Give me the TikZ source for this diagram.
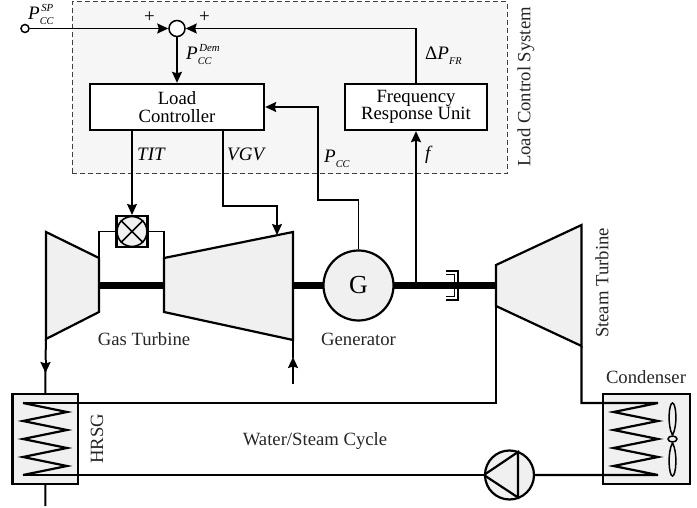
\documentclass[tikz,border=0pt]{standalone}
\usepackage{fontspec}
\setmainfont{Liberation Serif}
\usetikzlibrary{arrows.meta,calc,shapes.geometric}
\newcommand{\lbl}[3]{\textit{#1}\rlap{\hspace{1.5pt}\raisebox{8.5pt}{\fontsize{10.8}{10}\selectfont\textit{#2}}}{\raisebox{-4.5pt}{\fontsize{10.3}{10}\selectfont\textit{#3}}}}
\tikzset{
 x=1pt,y=-1pt,
 txt/.style={font=\fontsize{18.7}{18}\selectfont,inner sep=0pt,align=center,text=black!85},
 mlabel/.style={font=\fontsize{19}{18}\selectfont,inner sep=0pt,anchor=base west},
 wire/.style={line width=1.4pt},
 pipe/.style={line width=2pt},
 arr/.style={-{Stealth[length=11pt,width=10pt,inset=1.5pt]}},
 block/.style={draw,line width=2.4pt,fill=white,minimum width=#1,minimum height=46pt,inner sep=0pt,align=center,font=\fontsize{18.7}{18}\selectfont},
 machine/.style={draw,line width=2.2pt,fill=black!6,line join=miter},
 coil/.style={line width=2.2pt,line join=miter},
 dot/.style={circle,draw,inner sep=0pt,fill=white},
}
\begin{document}
\begin{tikzpicture}
\useasboundingbox (0,0) rectangle (697,508);
% load control system frame
\node[draw=black!75,line width=1pt,fill=black!3.5,minimum width=435pt,minimum height=172pt,inner sep=0pt,dash pattern=on 5pt off 3pt] (lcs) at (289.5,88) {};
\node[txt,rotate=90] (lcslabel) at (526,87) {Load Control System};
% control blocks
\node[block=174pt] (lc) at (177,107) {Load\\[-0.5pt]Controller};
\node[block=142pt] (fr) at (416,107) {Frequency\\[-0.5pt]Response Unit};
\node[dot,line width=1.5pt,minimum size=16pt] (sum) at (177,28.5) {};
\node[dot,line width=1.5pt,minimum size=8pt] (in) at (25,28.5) {};
% machines
\coordinate (c1) at (46,232); \coordinate (c2) at (99,258); \coordinate (c3) at (99,312); \coordinate (c4) at (46,339);
\coordinate (t1) at (164,258); \coordinate (t2) at (293,232); \coordinate (t3) at (293,340); \coordinate (t4) at (164,312);
\coordinate (s1) at (496,265); \coordinate (s2) at (581.5,225); \coordinate (s3) at (581.5,346); \coordinate (s4) at (496,306);
% shafts
\draw[line width=7.5pt] (99,285.5) -- (164,285.5);
\draw[line width=7.5pt] (293,285.5) -- (330,285.5);
\draw[line width=7.5pt] (390,285.5) -- (496,285.5);
\draw[machine] (c1) -- (c2) -- (c3) -- (c4) -- cycle;
\draw[machine] (t1) -- (t2) -- (t3) -- (t4) -- cycle;
\draw[machine] (s1) -- (s2) -- (s3) -- (s4) -- cycle;
\node[draw,line width=2.2pt,fill=black!6,circle,minimum size=70pt,inner sep=0pt,font=\fontsize{26}{26}\selectfont] (gen) at (358.5,285.5) {G};
% fuel lines and combustor
\node[draw,line width=2.2pt,fill=black!6,rectangle,minimum size=31pt,inner sep=0pt] (cb) at (132,231.5) {};
\draw[wire] (cb.west) -| (c2);
\draw[wire] (cb.east) -| (t1);
\node[draw,line width=1.6pt,fill=black!6,circle,minimum size=30pt,inner sep=0pt] (cbc) at (132,231.5) {};
\draw[line width=1.6pt] (cbc.45) -- (cbc.225) (cbc.135) -- (cbc.315);
% coupling
\draw[line width=1.2pt] (446,271) -- (458,271) -- (458,300) -- (446,300);
\draw[line width=1.2pt] (446,274.5) -- (454.5,274.5) -- (454.5,296.5) -- (446,296.5);
% control connectors
\coordinate (tap) at (416,285.5);
\draw[wire,arr] (in.east) -- (sum.west);
\draw[wire,arr] (fr.north) |- (sum.east);
\draw[wire,arr] (sum) -- (lc.north);
\draw[wire,arr] (gen.north) |- (318,200) |- (lc.east);
\draw[wire,arr] (tap) -- (fr.south);
\draw[wire,arr] (lc.south -| cb.north) -- (cb.north);
\coordinate (vgvtop) at (223,130);
\coordinate (vgvend) at (277,235);
\draw[wire,arr] (vgvtop) |- (277,206) -- (vgvend);
% flows
\node[draw,line width=2.2pt,fill=black!6,minimum width=65.5pt,minimum height=90pt,inner sep=0pt] (hrsg) at (45.25,439) {};
\node[draw,line width=2.2pt,fill=black!6,minimum width=87pt,minimum height=90pt,inner sep=0pt] (cond) at (646.5,439) {};
\node[draw,line width=2.2pt,fill=black!6,circle,minimum size=49pt,inner sep=0pt] (pump) at (509.5,475) {};
\draw[coil] (pump.west) -- (518,452) -- (518,497.5) -- cycle;
\draw[pipe] (c4) -- (45.5,360);
\draw[pipe,arr] (45.5,360) -- (45.5,373);
\draw[pipe] (45.5,370) -- (hrsg.north);
\draw[pipe,arr] (293,384) -- (293,357);
\draw[line width=2.2pt] (t3) -- (293,358);
\draw[pipe] (hrsg.south) -- (45.5,506);
\draw[coil] (23,403) -- (67,412) -- (23,421) -- (67,430) -- (23,439) -- (67,448) -- (23,457) -- (67,466) -- (23,475);
\draw[pipe] (23,403) -- (496,403) -- (s4);
\draw[pipe] (23,475) -- (pump.west);
\draw[coil] (s3) -- (581.5,403) -- (658,403) -- (613.5,412) -- (658,421) -- (613.5,430) -- (658,439) -- (613.5,448) -- (658,457) -- (613.5,466) -- (658,475) -- (pump.east);
% fan
\node[draw,line width=1.5pt,ellipse,fill=none,minimum width=9pt,minimum height=6pt,inner sep=0pt] (hub) at (672.5,439) {};
\draw[line width=1.5pt] (hub.north) .. controls (667,425) and (669,403) .. (672.5,403) .. controls (676,403) and (678,425) .. (hub.north);
\draw[line width=1.5pt] (hub.south) .. controls (667,453) and (669,476) .. (672.5,476) .. controls (676,476) and (678,453) .. (hub.south);
% text labels
\node[txt] (gt) at (144,339) {Gas Turbine};
\node[txt] (gl) at (358.5,339) {Generator};
\node[txt] (ws) at (315,441) {Water/Steam Cycle};
\node[txt,rotate=90] (hl) at (97,439) {HRSG};
\node[txt,rotate=90] (st) at (602,283) {Steam Turbine};
\node[txt] (cl) at (646,377) {Condenser};
\node[mlabel] (lsp) at (28,20) {\lbl{P}{SP}{CC}};
\node[mlabel] (ldem) at (186,60) {\lbl{P}{Dem}{CC}};
\node[mlabel] (ltit) at (137,161) {\textit{TIT}};
\node[mlabel] (lvgv) at (227,161) {\textit{VGV}};
\node[mlabel] (lpcc) at (324,163) {\lbl{P}{}{CC}};
\node[mlabel] (ldp) at (425,60) {Δ\lbl{P}{}{FR}};
\node[mlabel] (lf) at (425,160) {\textit{f}};
\node[mlabel] (pl1) at (144,23) {+};
\node[mlabel] (pl2) at (199,23) {+};
\end{tikzpicture}
\end{document}
